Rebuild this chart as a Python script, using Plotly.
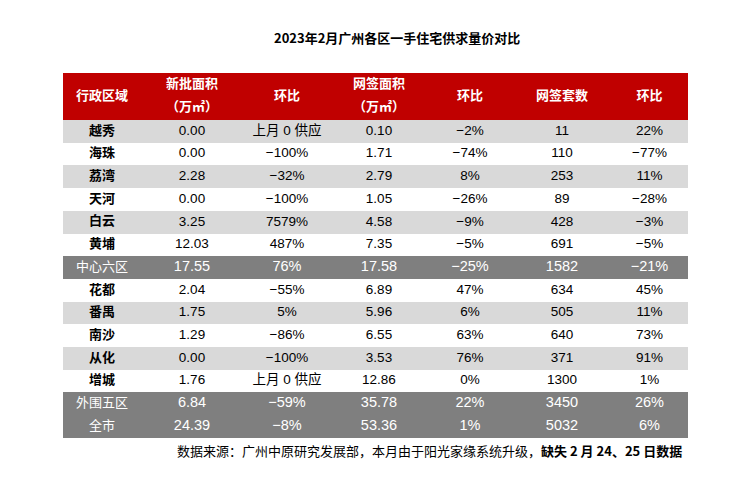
import plotly.graph_objects as go

districts = ["越秀", "海珠", "荔湾", "天河", "白云", "黄埔", "中心六区",
             "花都", "番禺", "南沙", "从化", "增城", "外围五区", "全市"]
new_area = [0.00, 0.00, 2.28, 0.00, 3.25, 12.03, 17.55, 2.04, 1.75, 1.29, 0.00, 1.76, 6.84, 24.39]
new_mom = [None, -100, -32, -100, 7579, 487, 76, -55, 5, -86, -100, None, -59, -8]
sign_area = [0.10, 1.71, 2.79, 1.05, 4.58, 7.35, 17.58, 6.89, 5.96, 6.55, 3.53, 12.86, 35.78, 53.36]
sign_mom = [-2, -74, 8, -26, -9, -5, -25, 47, 6, 63, 76, 0, 22, 1]
units = [11, 110, 253, 89, 428, 691, 1582, 634, 505, 640, 371, 1300, 3450, 5032]
units_mom = [22, -77, 11, -28, -3, -5, -21, 45, 11, 73, 91, 1, 26, 6]
headers = [["行政区域"], ["新批面积", "（万㎡）"], ["环比"], ["网签面积", "（万㎡）"],
           ["环比"], ["网签套数"], ["环比"]]
summary_rows = {"中心六区", "外围五区", "全市"}
title = "2023年2月广州各区一手住宅供求量价对比"
source_plain = "数据来源：广州中原研究发展部，本月由于阳光家缘系统升级，"
source_bold = "缺失 2 月 24、25 日数据"

# ---- layout (screen pixel space; page body has an 8px margin) ----
OFF = 8
W, H = 751 - 2 * OFF, 480 - 2 * OFF
RED = "#c00000"
LIGHT = "#d9d9d9"
DARK = "#7f7f7f"
col_edges = [63, 141, 243, 331, 427, 513, 611, 688]
header_top, header_bot = 73, 120
row_h = 22.7
row_edges = [header_top, header_bot] + [header_bot + row_h * (k + 1) for k in range(len(districts))]


def pct(v):
    if v is None:
        return "上月 0 供应"
    return ("−" if v < 0 else "") + f"{abs(v)}%"


columns = [
    [d if d in summary_rows else f"<b>{d}</b>" for d in districts],
    [f"{v:.2f}" for v in new_area],
    [pct(v) for v in new_mom],
    [f"{v:.2f}" for v in sign_area],
    [pct(v) for v in sign_mom],
    [str(v) for v in units],
    [pct(v) for v in units_mom],
]

# fill codes: 0 white, 1 light, 2 dark, 3 red
z = [[3] * 7]
for i, d in enumerate(districts):
    code = 2 if d in summary_rows else (1 if i % 2 == 0 else 0)
    z.append([code] * 7)

colorscale = [[0, "white"], [1 / 6, "white"], [1 / 6, LIGHT], [0.5, LIGHT],
              [0.5, DARK], [5 / 6, DARK], [5 / 6, RED], [1, RED]]

fig = go.Figure()
fig.add_trace(go.Heatmap(
    x=col_edges, y=row_edges, z=z, zmin=0, zmax=3, colorscale=colorscale,
    showscale=False, hoverinfo="skip", xgap=0, ygap=0,
))

# header text
col_centers = [(col_edges[j] + col_edges[j + 1]) / 2 for j in range(7)]
hx, hy, ht = [], [], []
hh = header_bot - header_top
for j, lines in enumerate(headers):
    if len(lines) == 1:
        hx.append(col_centers[j]); hy.append(header_top + hh * 0.5); ht.append(f"<b>{lines[0]}</b>")
    else:
        hx.append(col_centers[j]); hy.append(header_top + hh * 0.26); ht.append(f"<b>{lines[0]}</b>")
        hx.append(col_centers[j]); hy.append(header_top + hh * 0.74); ht.append(f"<b>{lines[1]}</b>")
fig.add_trace(go.Scatter(
    x=hx, y=hy, text=ht, mode="text", hoverinfo="skip", cliponaxis=False,
    textfont=dict(color="white", size=13, family="Noto Sans CJK SC, Liberation Sans"),
))

# body text
bx, by, bt, bc, bs, bf = [], [], [], [], [], []
for i, d in enumerate(districts):
    yc = (row_edges[i + 1] + row_edges[i + 2]) / 2
    summ = d in summary_rows
    for j in range(7):
        bx.append(col_centers[j]); by.append(yc); bt.append(columns[j][i])
        bc.append("white" if summ else "black")
        if j == 0:
            bs.append(13)
            bf.append("Noto Sans CJK SC, Liberation Sans")
        else:
            bs.append(14.5 if summ else 13.5)
            bf.append("Liberation Sans, Noto Sans CJK SC")
fig.add_trace(go.Scatter(
    x=bx, y=by, text=bt, mode="text", hoverinfo="skip", cliponaxis=False,
    textfont=dict(color=bc, size=bs, family=bf),
))

fig.update_layout(
    width=W, height=H,
    margin=dict(l=0, r=0, t=0, b=0),
    paper_bgcolor="white",
    plot_bgcolor="white",
    showlegend=False,
    xaxis=dict(range=[OFF, OFF + W], visible=False, fixedrange=True),
    yaxis=dict(range=[OFF + H, OFF], visible=False, fixedrange=True),
    annotations=[
        dict(text=f"<b>{title}</b>", x=397, y=37, xref="x", yref="y",
             xanchor="center", yanchor="middle", showarrow=False,
             font=dict(size=13, color="black", family="Noto Sans CJK SC, Liberation Sans")),
        dict(text=f"{source_plain}<b>{source_bold}</b>", x=684, y=450, xref="x", yref="y",
             xanchor="right", yanchor="middle", showarrow=False,
             font=dict(size=13, color="black", family="Noto Sans CJK SC, Liberation Sans")),
    ],
)

fig.write_html("out.html")
